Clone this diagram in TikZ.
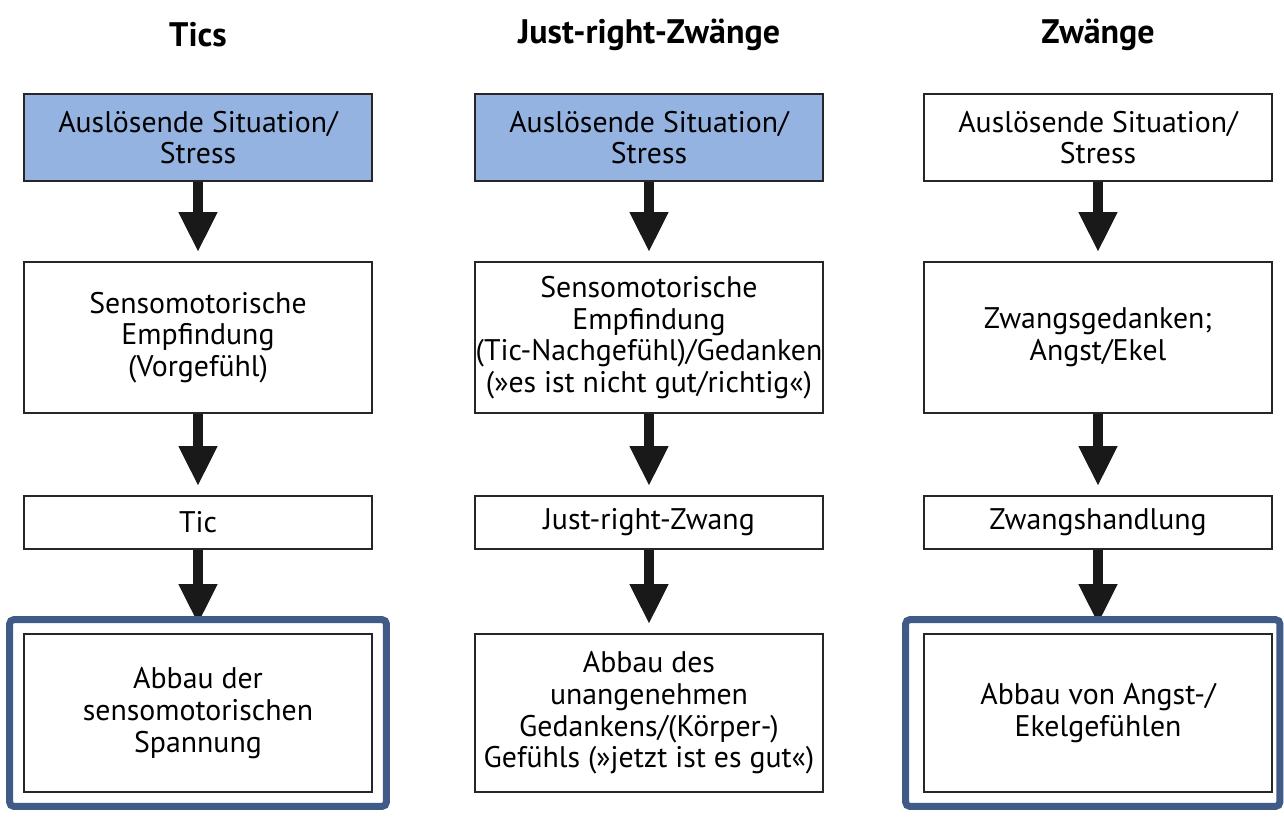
\documentclass[tikz,border=0pt]{standalone}
\usepackage{fontspec}
\setmainfont{PT Sans}
\usetikzlibrary{calc,arrows.meta}
\definecolor{triggerblue}{RGB}{149,179,224}
\definecolor{framegray}{RGB}{64,92,134}

\begin{document}
\begin{tikzpicture}[x=0.5pt,y=-0.5pt,
  box/.style={draw=black!85,line width=0.8pt,align=center,
    minimum width=174pt,inner sep=0pt,
    font=\fontsize{14.9}{15.8}\selectfont},
  trigger/.style={box,fill=triggerblue},
  heading/.style={font=\fontsize{17}{20}\selectfont\bfseries},
  arr/.style={line width=5pt,-{Triangle[width=18pt,length=20pt]},
    shorten >=4.5pt,black!90},
  frame/.style={draw=framegray,line width=3.5pt,rounded corners=2pt}]
\useasboundingbox (0,0) rectangle (1284,816);

\node[heading] (headtics) at (198,35) {Tics};
\node[heading] (headjust) at (649,35) {Just-right-Zwänge};
\node[heading] (headzw) at (1098,35) {Zwänge};

% Tics
\node[trigger,minimum height=43.5pt] (tics1) at (198,137.5)
  {Auslösende Situation/\\Stress};
\node[box,minimum height=75.5pt] (tics2) at (198,337.5)
  {Sensomotorische\\Empfindung\\(Vorgefühl)};
\node[box,minimum height=26.5pt] (tics3) at (198,522.5) {Tic};
\node[box,minimum height=79pt] (tics4) at (198,713)
  {Abbau der\\sensomotorischen\\Spannung};

% Just-right-Zwaenge
\node[trigger,minimum height=43.5pt] (just1) at (649,137.5)
  {Auslösende Situation/\\Stress};
\node[box,minimum height=75.5pt] (just2) at (649,337.5)
  {Sensomotorische\\Empfindung\\(Tic-Nachgefühl)/Gedanken\\(»es ist nicht gut/richtig«)};
\node[box,minimum height=26.5pt] (just3) at (649,522.5) {Just-right-Zwang};
\node[box,minimum height=79pt] (just4) at (649,713)
  {Abbau des\\unangenehmen\\Gedankens/(Körper-)\\Gefühls (»jetzt ist es gut«)};

% Zwaenge
\node[box,minimum height=43.5pt] (zw1) at (1098,137.5)
  {Auslösende Situation/\\Stress};
\node[box,minimum height=75.5pt] (zw2) at (1098,337.5)
  {Zwangsgedanken;\\Angst/Ekel};
\node[box,minimum height=26.5pt] (zw3) at (1098,522.5) {Zwangshandlung};
\node[box,minimum height=79pt] (zw4) at (1098,713)
  {Abbau von Angst-/\\Ekelgefühlen};

\draw[arr] (tics1) -- (tics2);
\draw[arr] (tics2) -- (tics3);
\draw[arr] (tics3) -- (tics4);
\draw[arr] (just1) -- (just2);
\draw[arr] (just2) -- (just3);
\draw[arr] (just3) -- (just4);
\draw[arr] (zw1) -- (zw2);
\draw[arr] (zw2) -- (zw3);
\draw[arr] (zw3) -- (zw4);

\draw[frame] ($(tics4.north west)+(-13.5,-13.5)$)
  rectangle ($(tics4.south east)+(13.5,13.5)$);
\draw[frame] ($(zw4.north west)+(-17.5,-13.5)$)
  rectangle ($(zw4.south east)+(7,13.5)$);
\end{tikzpicture}
\end{document}
